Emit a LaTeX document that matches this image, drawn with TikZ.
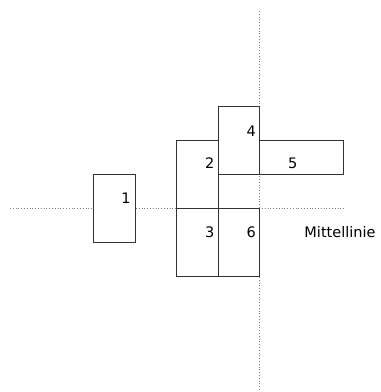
\documentclass[tikz,border=0pt]{standalone}
\usepackage{fontspec}
\setmainfont{DejaVu Sans}
\usepackage{tikz}
\usetikzlibrary{positioning}

\begin{document}
\begin{tikzpicture}[x=1pt,y=1pt,
    box/.style={draw=black!80,line width=.9pt,fill=white,inner sep=0pt,anchor=south west},
    midline/.style={draw=black!50,line width=.8pt,dotted},
    every node/.style={font=\fontsize{14.5}{17}\selectfont}]
    \useasboundingbox (0,0) rectangle (381,392);
%draw center lines
    \coordinate (ml) at (10,183.3);
    \coordinate (mr) at (343.3,183.3);
    \coordinate (vt) at (259.3,381);
    \coordinate (vb) at (259.3,0);
    \draw[midline] (ml) -- (mr);
    \draw[midline] (vt) -- (vb);
%draw boxes
    \node[box,minimum width=41.7pt,minimum height=68pt] (b1) at (93.3,148.7) {};
    \node[box,minimum width=41.4pt,minimum height=68pt] (b2) at (176.3,183.3) {};
    \node[box,minimum width=41.4pt,minimum height=68pt] (b3) at (176.3,115.3) {};
    \node[box,minimum width=41.6pt,minimum height=68pt] (b4) at (217.7,216.7) {};
    \node[box,minimum width=84pt,minimum height=34.6pt] (b5) at (259.3,216.7) {};
    \node[box,minimum width=41.6pt,minimum height=68pt] (b6) at (217.7,115.3) {};
%insert box numbers
    \node (n1) at (126,194) {1};
    \node (n2) at (209.7,228.5) {2};
    \node (n3) at (209.7,159.8) {3};
    \node (n4) at (251.3,261) {4};
    \node (n5) at (292.8,228.5) {5};
    \node (n6) at (251.3,159.8) {6};
%insert line label
    \node (m) at (340,159.5) {Mittellinie};
\end{tikzpicture}
\end{document}
